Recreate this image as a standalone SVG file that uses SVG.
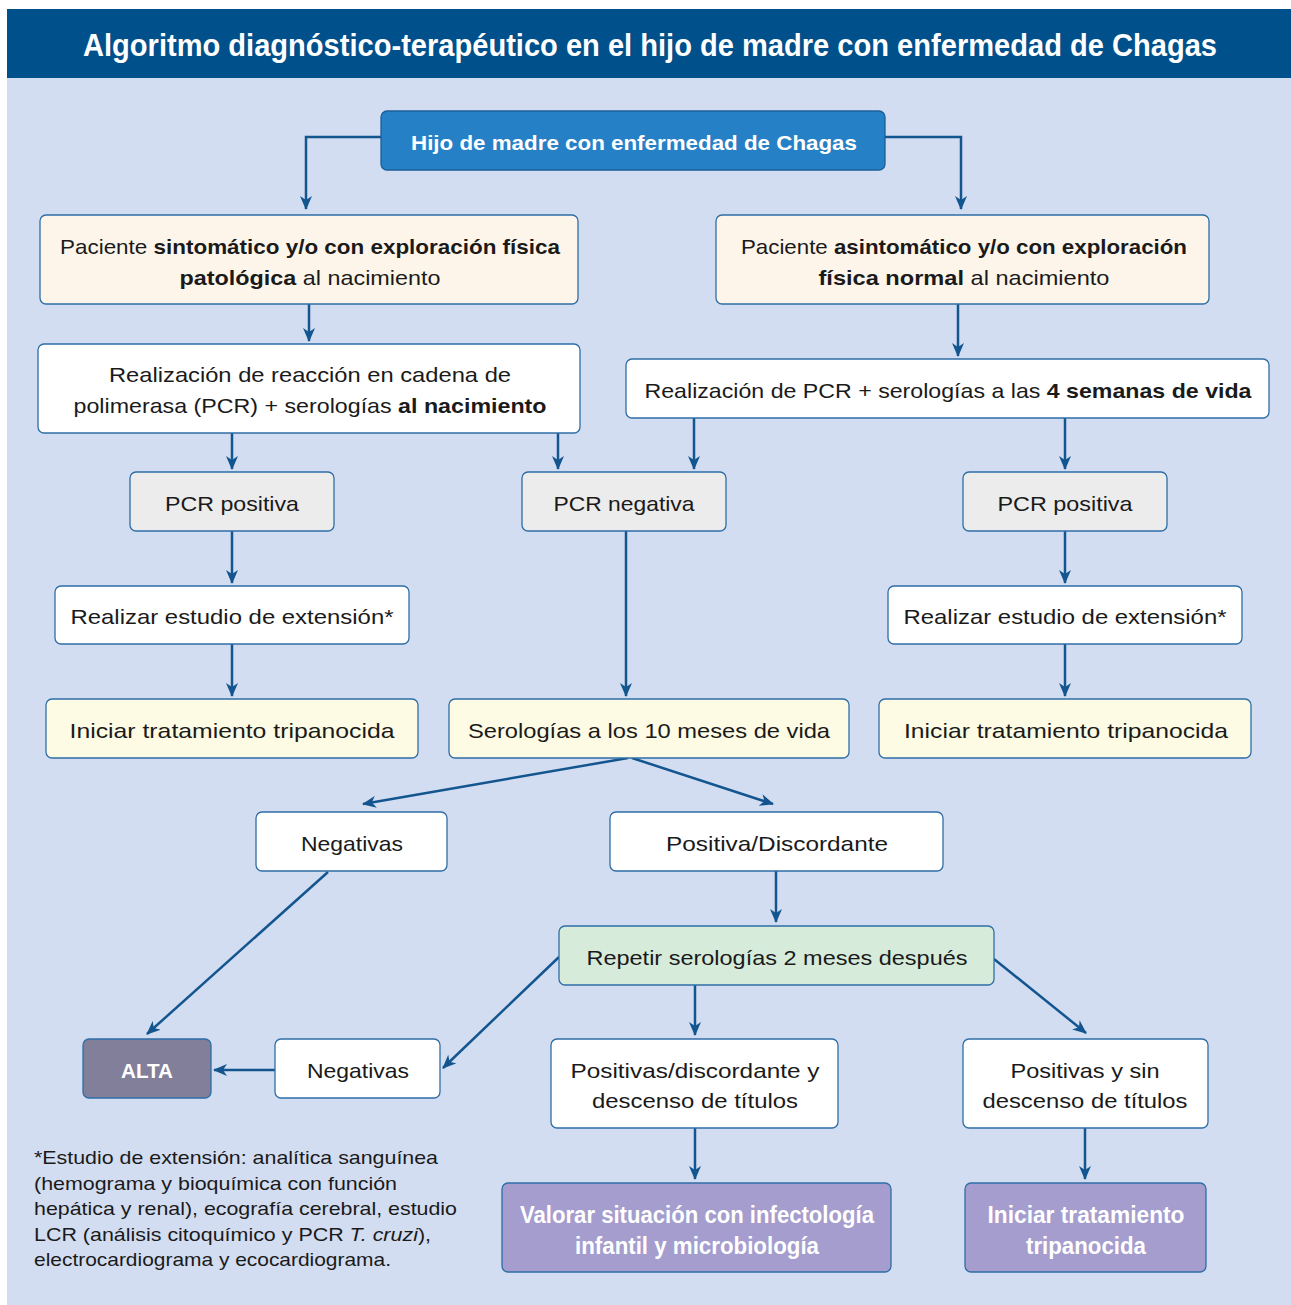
<svg xmlns="http://www.w3.org/2000/svg" width="1291" height="1305" viewBox="0 0 1291 1305">
<defs>
<marker id="ah" viewBox="0 0 14 12" refX="13" refY="6" markerWidth="14" markerHeight="12" markerUnits="userSpaceOnUse" orient="auto">
<path d="M0,0 L14,6 L0,12 L4,6 z" fill="#13558f"/>
</marker>
</defs>
<style>
.n{stroke:#2e6ea6;stroke-width:1.3}
.w{fill:#ffffff}
.cr{fill:#fdf5ea}
.gy{fill:#ececec}
.yl{fill:#fdfbe4}
.gr{fill:#d6ebda}
.t{font-family:"Liberation Sans","Arial",sans-serif;font-size:21px;fill:#1a1a1a;text-anchor:middle}
.b{font-weight:bold}
.wt{fill:#ffffff;font-weight:bold}
.c{fill:none;stroke:#13558f;stroke-width:2.5}
.fn{font-family:"Liberation Sans","Arial",sans-serif;font-size:19px;fill:#1a1a1a}
</style>
<rect x="7" y="9" width="1284" height="69" fill="#00508c"/>
<rect x="7" y="78" width="1284" height="1227" fill="#d3ddf1"/>
<text x="650" y="56" class="t wt" style="font-size:31px" textLength="1134" lengthAdjust="spacingAndGlyphs">Algoritmo diagnóstico-terapéutico en el hijo de madre con enfermedad de Chagas</text>

<g id="connectors">
<path class="c" d="M381,137 H306 V209" marker-end="url(#ah)"/>
<path class="c" d="M885,137 H961 V209" marker-end="url(#ah)"/>
<path class="c" d="M309,304 V341" marker-end="url(#ah)"/>
<path class="c" d="M958,304 V356" marker-end="url(#ah)"/>
<path class="c" d="M232,433 V469" marker-end="url(#ah)"/>
<path class="c" d="M558,433 V469" marker-end="url(#ah)"/>
<path class="c" d="M694,418 V469" marker-end="url(#ah)"/>
<path class="c" d="M1065,418 V469" marker-end="url(#ah)"/>
<path class="c" d="M232,531 V583" marker-end="url(#ah)"/>
<path class="c" d="M232,644 V696" marker-end="url(#ah)"/>
<path class="c" d="M626,531 V696" marker-end="url(#ah)"/>
<path class="c" d="M1065,531 V583" marker-end="url(#ah)"/>
<path class="c" d="M1065,644 V696" marker-end="url(#ah)"/>
<path class="c" d="M628,758 L363,804" marker-end="url(#ah)"/>
<path class="c" d="M632,758 L773,804" marker-end="url(#ah)"/>
<path class="c" d="M328,872 L147,1034" marker-end="url(#ah)"/>
<path class="c" d="M776,871 V922" marker-end="url(#ah)"/>
<path class="c" d="M559,957 L443,1068" marker-end="url(#ah)"/>
<path class="c" d="M695,985 V1035" marker-end="url(#ah)"/>
<path class="c" d="M994,959 L1086,1033" marker-end="url(#ah)"/>
<path class="c" d="M275,1070 H214" marker-end="url(#ah)"/>
<path class="c" d="M695,1128 V1179" marker-end="url(#ah)"/>
<path class="c" d="M1085,1128 V1179" marker-end="url(#ah)"/>
</g>

<g id="n-top">
<rect x="381" y="111" width="504" height="59" rx="6" fill="#2580c5" stroke="#1a5f99" stroke-width="1.3"/>
<text x="634" y="150" class="t wt" textLength="446" lengthAdjust="spacingAndGlyphs">Hijo de madre con enfermedad de Chagas</text>
</g>
<g id="n-sint">
<rect x="40" y="215" width="538" height="89" rx="6" class="n cr"/>
<text x="310" y="254" class="t" textLength="500" lengthAdjust="spacingAndGlyphs">Paciente <tspan class="b">sintomático y/o con exploración física</tspan></text>
<text x="310" y="285" class="t" textLength="261" lengthAdjust="spacingAndGlyphs"><tspan class="b">patológica</tspan> al nacimiento</text>
</g>
<g id="n-asint">
<rect x="716" y="215" width="493" height="89" rx="6" class="n cr"/>
<text x="964" y="254" class="t" textLength="446" lengthAdjust="spacingAndGlyphs">Paciente <tspan class="b">asintomático y/o con exploración</tspan></text>
<text x="964" y="285" class="t" textLength="291" lengthAdjust="spacingAndGlyphs"><tspan class="b">física normal</tspan> al nacimiento</text>
</g>
<g id="n-pcr-nac">
<rect x="38" y="344" width="542" height="89" rx="6" class="n w"/>
<text x="310" y="382" class="t" textLength="402" lengthAdjust="spacingAndGlyphs">Realización de reacción en cadena de</text>
<text x="310" y="413" class="t" textLength="473" lengthAdjust="spacingAndGlyphs">polimerasa (PCR) + serologías <tspan class="b">al nacimiento</tspan></text>
</g>
<g id="n-pcr-4s">
<rect x="626" y="359" width="643" height="59" rx="6" class="n w"/>
<text x="948" y="398" class="t" textLength="607" lengthAdjust="spacingAndGlyphs">Realización de PCR + serologías a las <tspan class="b">4 semanas de vida</tspan></text>
</g>
<g id="n-pcrpos-l">
<rect x="130" y="472" width="204" height="59" rx="6" class="n gy"/>
<text x="232" y="511" class="t" textLength="134" lengthAdjust="spacingAndGlyphs">PCR positiva</text>
</g>
<g id="n-pcrneg">
<rect x="522" y="472" width="204" height="59" rx="6" class="n gy"/>
<text x="624" y="511" class="t" textLength="141" lengthAdjust="spacingAndGlyphs">PCR negativa</text>
</g>
<g id="n-pcrpos-r">
<rect x="963" y="472" width="204" height="59" rx="6" class="n gy"/>
<text x="1065" y="511" class="t" textLength="135" lengthAdjust="spacingAndGlyphs">PCR positiva</text>
</g>
<g id="n-ext-l">
<rect x="55" y="586" width="354" height="58" rx="6" class="n w"/>
<text x="232" y="624" class="t" textLength="323" lengthAdjust="spacingAndGlyphs">Realizar estudio de extensión*</text>
</g>
<g id="n-ext-r">
<rect x="888" y="586" width="354" height="58" rx="6" class="n w"/>
<text x="1065" y="624" class="t" textLength="323" lengthAdjust="spacingAndGlyphs">Realizar estudio de extensión*</text>
</g>
<g id="n-trat-l">
<rect x="46" y="699" width="372" height="59" rx="6" class="n yl"/>
<text x="232" y="738" class="t" textLength="325" lengthAdjust="spacingAndGlyphs">Iniciar tratamiento tripanocida</text>
</g>
<g id="n-sero10">
<rect x="449" y="699" width="400" height="59" rx="6" class="n yl"/>
<text x="649" y="738" class="t" textLength="362" lengthAdjust="spacingAndGlyphs">Serologías a los 10 meses de vida</text>
</g>
<g id="n-trat-r">
<rect x="879" y="699" width="372" height="59" rx="6" class="n yl"/>
<text x="1066" y="738" class="t" textLength="324" lengthAdjust="spacingAndGlyphs">Iniciar tratamiento tripanocida</text>
</g>
<g id="n-neg1">
<rect x="256" y="812" width="191" height="59" rx="6" class="n w"/>
<text x="352" y="851" class="t" textLength="102" lengthAdjust="spacingAndGlyphs">Negativas</text>
</g>
<g id="n-posdisc">
<rect x="610" y="812" width="333" height="59" rx="6" class="n w"/>
<text x="777" y="851" class="t" textLength="222" lengthAdjust="spacingAndGlyphs">Positiva/Discordante</text>
</g>
<g id="n-repetir">
<rect x="559" y="926" width="435" height="59" rx="6" class="n gr"/>
<text x="777" y="965" class="t" textLength="381" lengthAdjust="spacingAndGlyphs">Repetir serologías 2 meses después</text>
</g>
<g id="n-alta">
<rect x="83" y="1039" width="128" height="59" rx="6" fill="#827f9b" stroke="#2e6ea6" stroke-width="1.3"/>
<text x="147" y="1078" class="t wt" textLength="52" lengthAdjust="spacingAndGlyphs">ALTA</text>
</g>
<g id="n-neg2">
<rect x="275" y="1039" width="165" height="59" rx="6" class="n w"/>
<text x="358" y="1078" class="t" textLength="102" lengthAdjust="spacingAndGlyphs">Negativas</text>
</g>
<g id="n-posdesc">
<rect x="551" y="1039" width="287" height="89" rx="6" class="n w"/>
<text x="695" y="1078" class="t" textLength="249" lengthAdjust="spacingAndGlyphs">Positivas/discordante y</text>
<text x="695" y="1108" class="t" textLength="206" lengthAdjust="spacingAndGlyphs">descenso de títulos</text>
</g>
<g id="n-possin">
<rect x="963" y="1039" width="245" height="89" rx="6" class="n w"/>
<text x="1085" y="1078" class="t" textLength="149" lengthAdjust="spacingAndGlyphs">Positivas y sin</text>
<text x="1085" y="1108" class="t" textLength="205" lengthAdjust="spacingAndGlyphs">descenso de títulos</text>
</g>
<g id="n-valorar">
<rect x="502" y="1183" width="389" height="89" rx="6" fill="#a49dcd" stroke="#2e6ea6" stroke-width="1.3"/>
<text x="697" y="1223" class="t wt" style="font-size:23px" textLength="354" lengthAdjust="spacingAndGlyphs">Valorar situación con infectología</text>
<text x="697" y="1254" class="t wt" style="font-size:23px" textLength="244" lengthAdjust="spacingAndGlyphs">infantil y microbiología</text>
</g>
<g id="n-trat-final">
<rect x="965" y="1183" width="241" height="89" rx="6" fill="#a49dcd" stroke="#2e6ea6" stroke-width="1.3"/>
<text x="1086" y="1223" class="t wt" style="font-size:23px" textLength="197" lengthAdjust="spacingAndGlyphs">Iniciar tratamiento</text>
<text x="1086" y="1254" class="t wt" style="font-size:23px" textLength="120" lengthAdjust="spacingAndGlyphs">tripanocida</text>
</g>

<g id="footnote">
<text x="34" y="1164" class="fn" textLength="404" lengthAdjust="spacingAndGlyphs">*Estudio de extensión: analítica sanguínea</text>
<text x="34" y="1190" class="fn" textLength="363" lengthAdjust="spacingAndGlyphs">(hemograma y bioquímica con función</text>
<text x="34" y="1215" class="fn" textLength="423" lengthAdjust="spacingAndGlyphs">hepática y renal), ecografía cerebral, estudio</text>
<text x="34" y="1241" class="fn" textLength="397" lengthAdjust="spacingAndGlyphs">LCR (análisis citoquímico y PCR <tspan font-style="italic">T. cruzi</tspan>),</text>
<text x="34" y="1266" class="fn" textLength="357" lengthAdjust="spacingAndGlyphs">electrocardiograma y ecocardiograma.</text>
</g>
</svg>
